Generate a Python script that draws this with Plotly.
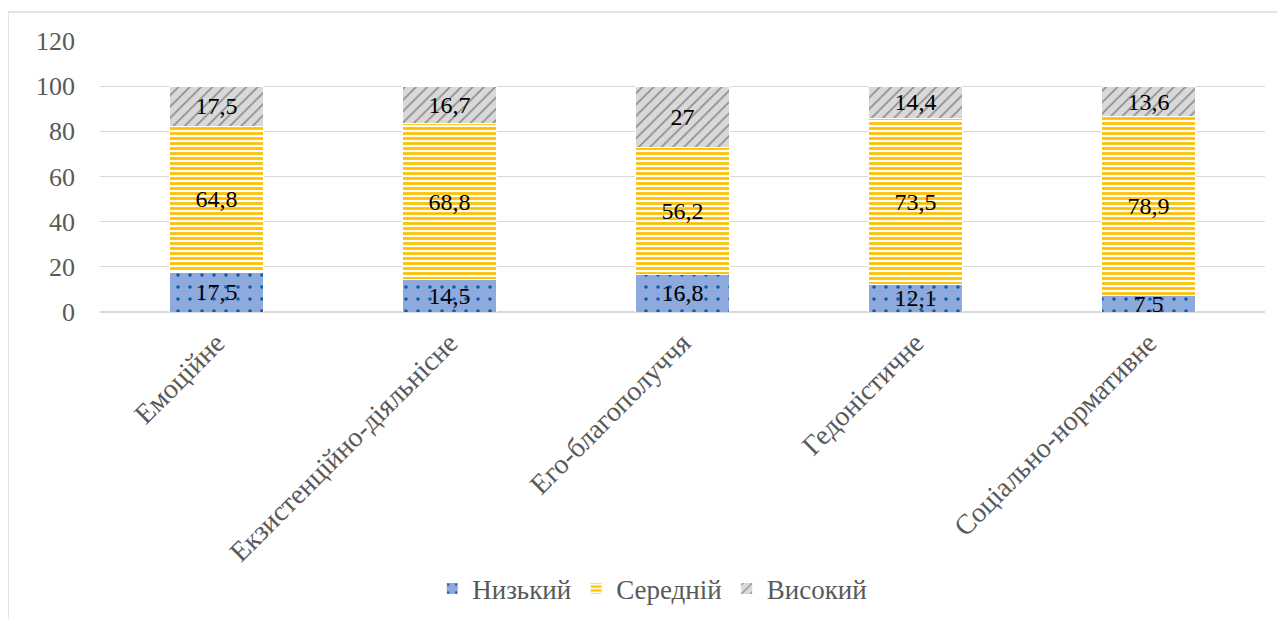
import plotly.graph_objects as go

categories = ["Емоційне", "Екзистенційно-діяльнісне", "Его-благополуччя", "Гедоністичне", "Соціально-нормативне"]
low = [17.5, 14.5, 16.8, 12.1, 7.5]
mid = [64.8, 68.8, 56.2, 73.5, 78.9]
high = [17.5, 16.7, 27, 14.4, 13.6]
series_names = ["Низький", "Середній", "Високий"]

def fmt(v):
    s = ("%g" % v)
    return s.replace(".", ",")

FONT = "Liberation Serif, Times New Roman, serif"
fig = go.Figure()

styles = [
    dict(shape=".", bg="#8EA9DB", fg="#0B5CB5", size=12, solidity=0.07),
    dict(shape="-", bg="#FFFFFF", fg="#FFC000", size=5, solidity=0.55),
    dict(shape="/", bg="#D9D9D9", fg="#8C8C8C", size=8, solidity=0.2),
]

for name, vals, st in zip(series_names, [low, mid, high], styles):
    fig.add_trace(go.Bar(
        x=categories, y=vals, name=name,
        text=[fmt(v) for v in vals],
        textposition="inside", insidetextanchor="middle",
        textfont=dict(family=FONT, size=24, color="#000000"),
        marker=dict(
            color=st["bg"],
            line=dict(color="#FFFFFF", width=1),
            pattern=dict(shape=st["shape"], fillmode="replace", bgcolor=st["bg"],
                         fgcolor=st["fg"], size=st["size"], solidity=st["solidity"]),
        ),
    ))

fig.update_layout(
    barmode="stack",
    bargap=0.6,
    width=1285, height=619,
    margin=dict(l=92, r=28, t=33, b=315),
    plot_bgcolor="white", paper_bgcolor="white",
    font=dict(family=FONT, size=26, color="#595959"),
    uniformtext=dict(minsize=24, mode="show"),
    showlegend=True,
    legend=dict(orientation="h", x=0.474, xanchor="center", y=-1.022, yanchor="middle",
                traceorder="normal",
                font=dict(family=FONT, size=27, color="#595959"), itemwidth=30),
    xaxis=dict(tickangle=-45, tickfont=dict(family=FONT, size=28, color="#595959"),
               showline=False, ticks="", ticklabelstandoff=8),
    yaxis=dict(range=[0, 120], dtick=20, gridcolor="#D9D9D9", gridwidth=1,
               zeroline=True, zerolinecolor="#D9D9D9", showline=False,
               tickfont=dict(family=FONT, size=26, color="#595959"), ticklabelstandoff=24),
    shapes=[dict(type="rect", xref="paper", yref="paper", x0=-0.079, x1=1.05, y0=-1.3, y1=1.107,
                 line=dict(color="#D9D9D9", width=1.5), layer="below")],
)

fig.write_html("out.html")
